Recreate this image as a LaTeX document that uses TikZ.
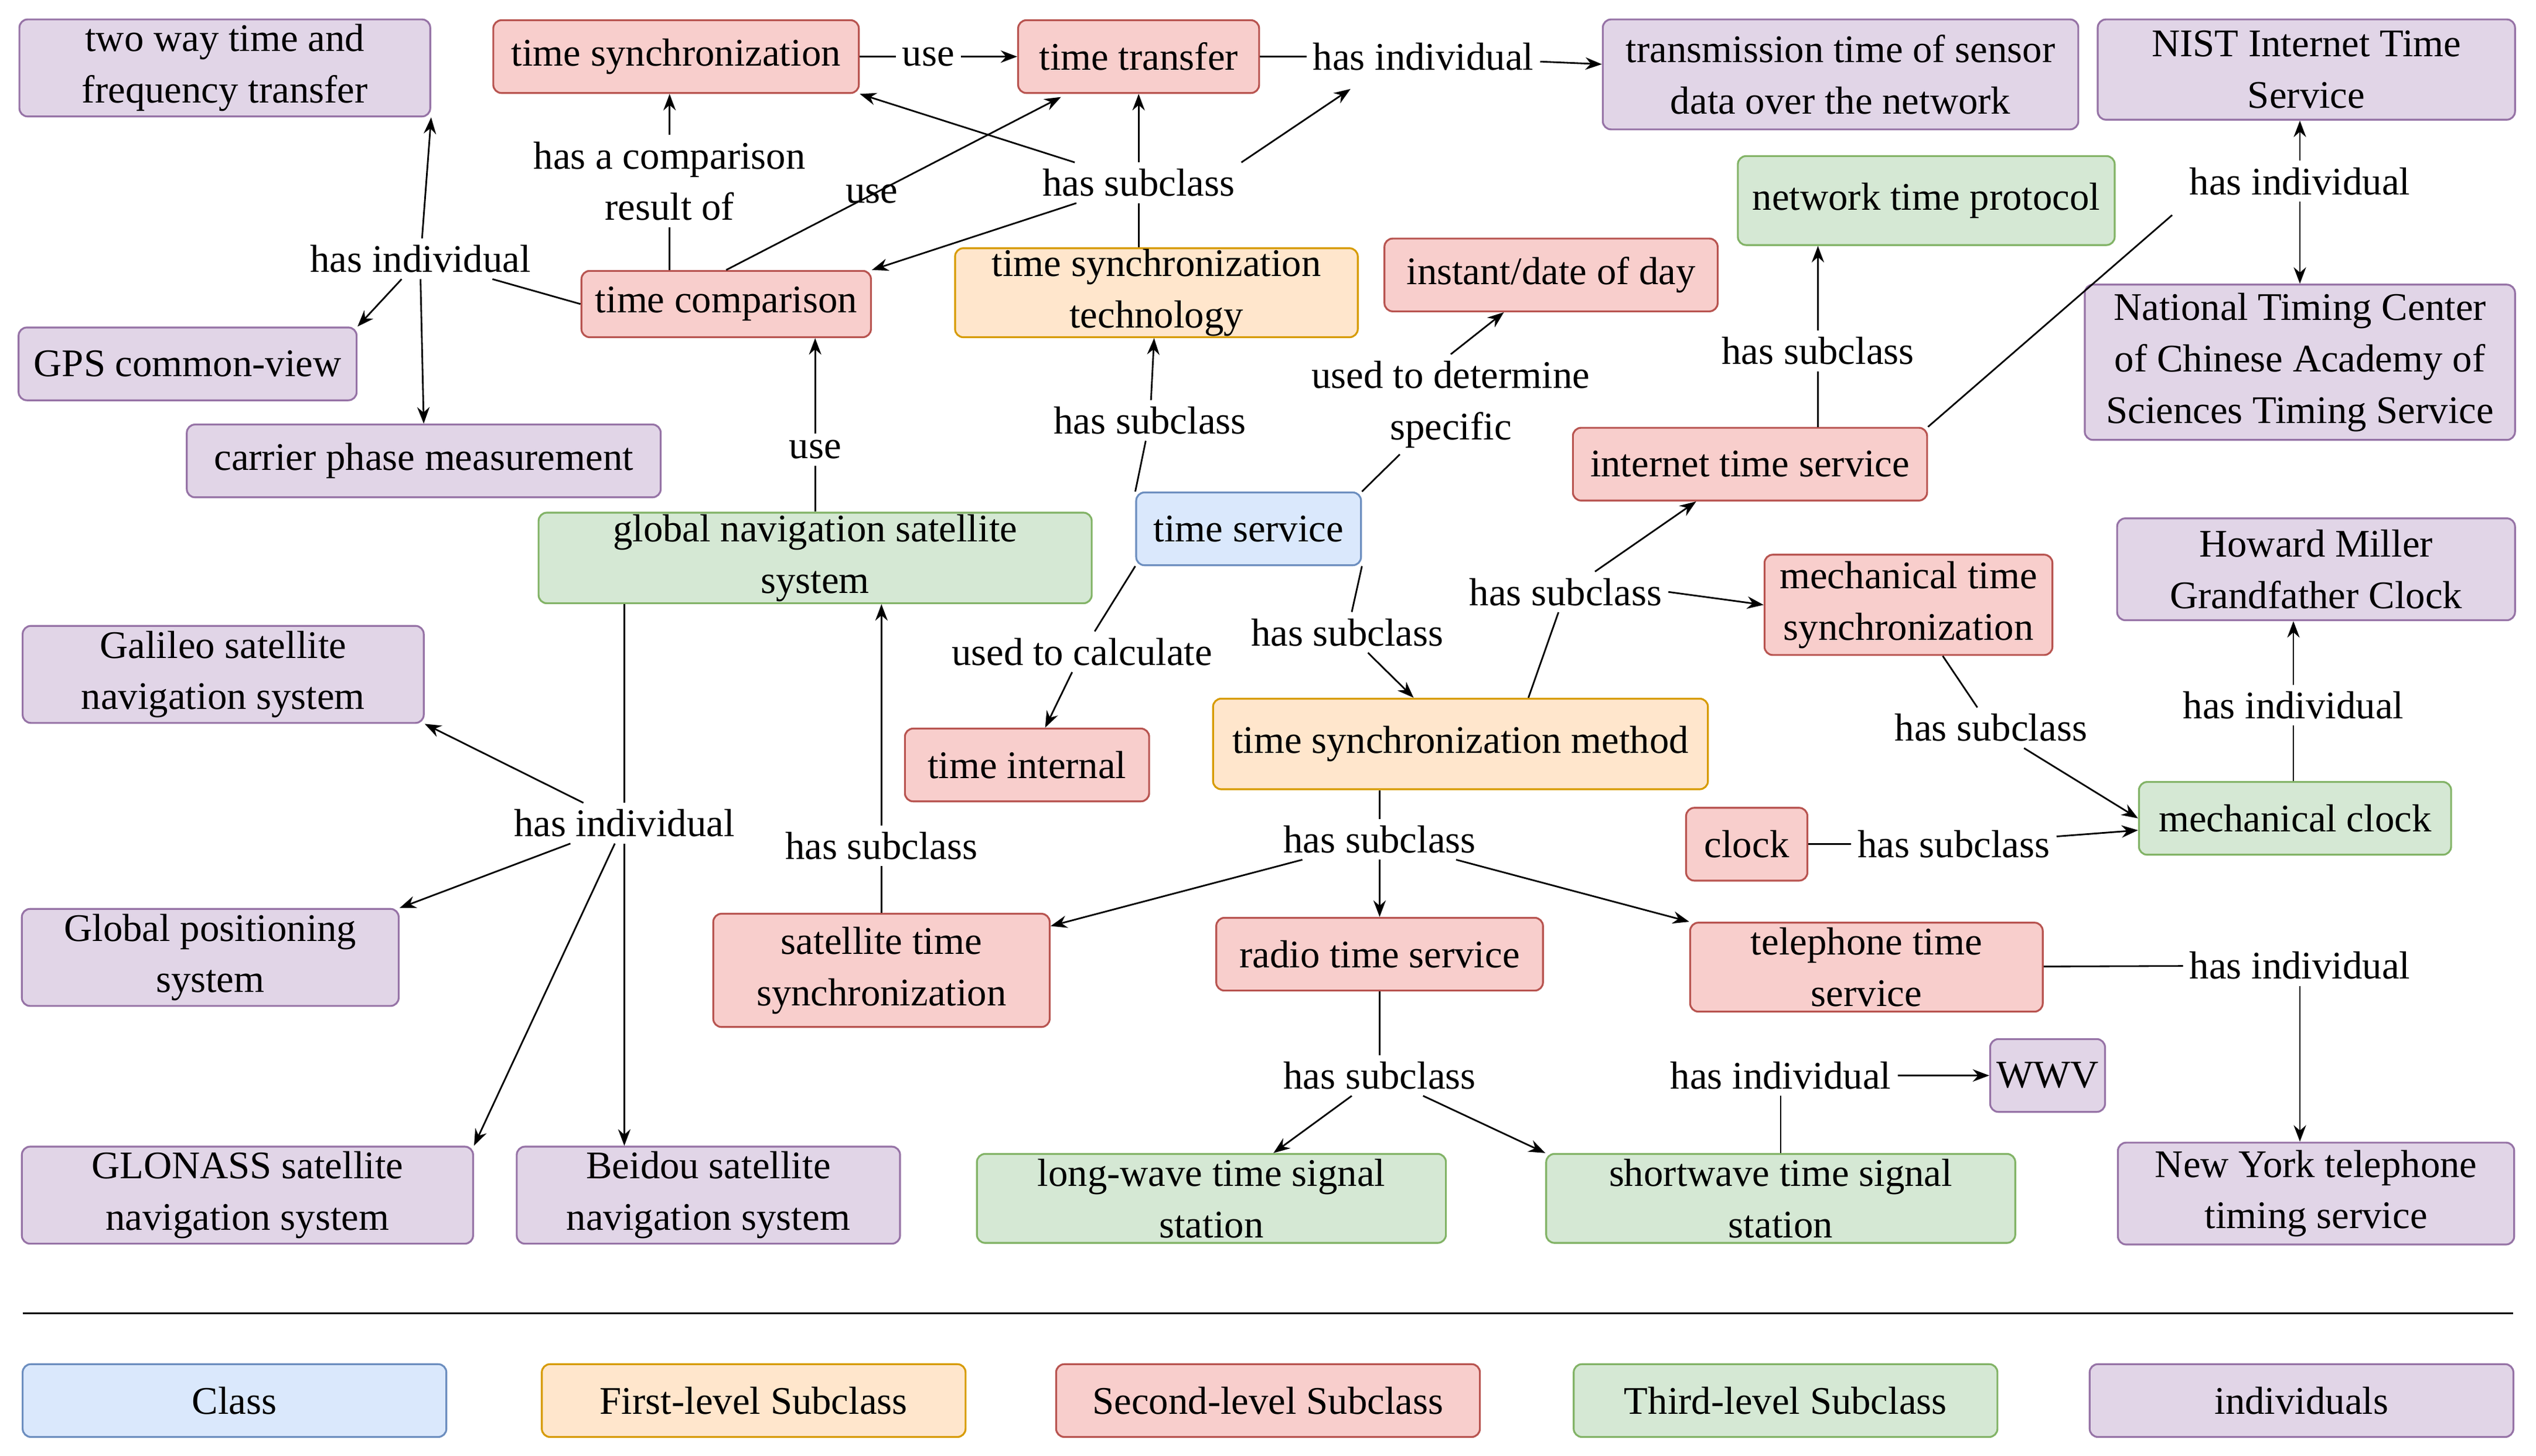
\documentclass[tikz,border=0pt]{standalone}
\usepackage{fontspec}
\setmainfont{Liberation Serif}
\usetikzlibrary{arrows.meta}
\definecolor{bF}{HTML}{DAE8FC}\definecolor{bD}{HTML}{6C8EBF}
\definecolor{oF}{HTML}{FFE6CC}\definecolor{oD}{HTML}{D79B00}
\definecolor{rF}{HTML}{F8CECC}\definecolor{rD}{HTML}{B85450}
\definecolor{gF}{HTML}{D5E8D4}\definecolor{gD}{HTML}{82B366}
\definecolor{pF}{HTML}{E1D5E7}\definecolor{pD}{HTML}{9673A6}
\begin{document}
\begin{tikzpicture}[x=0.0276cm,y=-0.0276cm,
  every node/.style={font=\fontsize{19}{25}\selectfont, align=center},
  bx/.style 2 args={draw, rounded corners=4pt, line width=0.9pt, inner sep=0pt, minimum width=#1*0.0276cm, minimum height=#2*0.0276cm},
  blu/.style 2 args={bx={#1}{#2}, fill=bF, draw=bD},
  ora/.style 2 args={bx={#1}{#2}, fill=oF, draw=oD},
  red/.style 2 args={bx={#1}{#2}, fill=rF, draw=rD},
  gre/.style 2 args={bx={#1}{#2}, fill=gF, draw=gD},
  pur/.style 2 args={bx={#1}{#2}, fill=pF, draw=pD},
  lb/.style={inner sep=3pt},
  ar/.style={-{Stealth[length=8pt,width=6pt]}, line width=0.8pt},
  ln/.style={line width=0.8pt}]
\useasboundingbox (0,0) rectangle (1568,900);
% boxes
\node[pur={254}{60}] (twoway) at (139,42) {two way time and\\frequency transfer};
\node[red={226}{45}] (tsync) at (418,35) {time synchronization};
\node[red={149}{45}] (ttrans) at (704,35) {time transfer};
\node[pur={294}{68}] (trans) at (1138,46) {transmission time of sensor\\data over the network};
\node[pur={258}{62}] (nist) at (1426,43) {NIST Internet Time\\Service};
\node[gre={233}{55}] (ntp) at (1191,124) {network time protocol};
\node[red={206}{45}] (inst) at (959,170) {instant/date of day};
\node[ora={249}{55}] (tst) at (715,181) {time synchronization\\technology};
\node[red={179}{41}] (tcomp) at (449,188) {time comparison};
\node[pur={209}{45}] (gpscv) at (116,225) {GPS common-view};
\node[pur={266}{96}] (ntc) at (1422,224) {National Timing Center\\of Chinese Academy of\\Sciences Timing Service};
\node[pur={293}{45}] (carrier) at (262,285) {carrier phase measurement};
\node[gre={342}{56}] (gnss) at (504,345) {global navigation satellite\\system};
\node[blu={139}{45}] (ts) at (772,327) {time service};
\node[red={219}{45}] (its) at (1082,287) {internet time service};
\node[pur={246}{63}] (howard) at (1432,352) {Howard Miller\\Grandfather Clock};
\node[red={178}{62}] (mech) at (1180,374) {mechanical time\\synchronization};
\node[pur={248}{60}] (galileo) at (138,417) {Galileo satellite\\navigation system};
\node[red={151}{45}] (tint) at (635,473) {time internal};
\node[ora={306}{56}] (tsm) at (903,460) {time synchronization method};
\node[red={75}{45}] (clock) at (1080,522) {clock};
\node[gre={193}{45}] (mclock) at (1419,506) {mechanical clock};
\node[pur={233}{60}] (gps) at (130,592) {Global positioning\\system};
\node[red={208}{70}] (sat) at (545,600) {satellite time\\synchronization};
\node[red={202}{45}] (radio) at (853,590) {radio time service};
\node[red={218}{55}] (tel) at (1154,598) {telephone time\\service};
\node[pur={71}{45}] (wwv) at (1266,665) {WWV};
\node[pur={279}{60}] (glonass) at (153,739) {GLONASS satellite\\navigation system};
\node[pur={237}{60}] (beidou) at (438,739) {Beidou satellite\\navigation system};
\node[gre={290}{55}] (long) at (749,741) {long-wave time signal\\station};
\node[gre={290}{55}] (short) at (1101,741) {shortwave time signal\\station};
\node[pur={245}{63}] (ny) at (1432,738) {New York telephone\\timing service};
% legend
\coordinate (lA) at (14,812); \coordinate (lB) at (1554,812);
\draw[ln] (lA) -- (lB);
\node[blu={262}{45}] (lg1) at (145,866) {Class};
\node[ora={262}{45}] (lg2) at (466,866) {First-level Subclass};
\node[red={262}{45}] (lg3) at (784,866) {Second-level Subclass};
\node[gre={262}{45}] (lg4) at (1104,866) {Third-level Subclass};
\node[pur={262}{45}] (lg5) at (1423,866) {individuals};
% labels
\node[lb] (l1) at (574,35) {use};
\node[lb] (l2) at (880,35) {has individual};
\node[lb] (l3) at (414,112) {has a comparison\\result of};
\node[lb] (l4) at (539,120) {use};
\node[lb] (l5) at (704,113) {has subclass};
\node[lb] (l6) at (260,160) {has individual};
\node[lb] (l7) at (504,278) {use};
\node[lb] (l8) at (711,260) {has subclass};
\node[lb] (l9) at (897,250) {used to determine\\specific};
\node[lb] (l10) at (1124,217) {has subclass};
\node[lb] (l11) at (1422,112) {has individual};
\node[lb] (l12) at (968,366) {has subclass};
\node[lb] (l13) at (833,391) {has subclass};
\node[lb] (l14) at (669,403) {used to calculate};
\node[lb] (l15) at (1231,450) {has subclass};
\node[lb] (l16) at (1418,436) {has individual};
\node[lb] (l17) at (1208,522) {has subclass};
\node[lb] (l18) at (386,509) {has individual};
\node[lb] (l19) at (545,523) {has subclass};
\node[lb] (l20) at (853,519) {has subclass};
\node[lb] (l21) at (853,665) {has subclass};
\node[lb] (l22) at (1101,665) {has individual};
\node[lb] (l23) at (1422,597) {has individual};
% connectors
\draw[ln] (tsync) -- (l1); \draw[ar] (l1) -- (ttrans);
\draw[ln] (ttrans) -- (l2); \draw[ar] (l2) -- (trans);
\draw[ln] (tcomp.north -| l3) -- (l3); \draw[ar] (l3) -- (tsync.south -| l3);
\coordinate (u4) at (656,60);
\draw[ar] (tcomp.north) -- (u4);
\draw[ln] (tst.north -| l5) -- (l5);
\draw[ar] (l5) -- (tsync.south east);
\draw[ar] (l5) -- (ttrans);
\coordinate (u5) at (835,55);
\draw[ar] (l5.north east) -- (u5);
\draw[ar] (l5) -- (tcomp.north east);
\draw[ln] (l6) -- (tcomp.west);
\draw[ar] (l6) -- (twoway.south east);
\draw[ar] (l6) -- (gpscv.north east);
\draw[ar] (l6.south) -- (carrier.north);
\draw[ln] (gnss.north) -- (l7); \draw[ar] (l7) -- (tcomp.south -| l7);
\draw[ln] (ts.north west) -- (l8); \draw[ar] (l8) -- (tst);
\draw[ln] (ts.north east) -- (l9); \draw[ar] (l9.north) -- (inst);
\draw[ln] (its.north -| l10) -- (l10); \draw[ar] (l10) -- (ntp.south -| l10);
\draw[ar] (l11) -- (nist.south -| l11); \draw[ar] (l11) -- (ntc.north -| l11);
\coordinate (u11) at (1343,133);
\draw[ln] (its.north east) -- (u11);
\draw[ln] (tsm.north) ++(42,0) coordinate (u12) ;
\draw[ln] (u12) -- (l12); \draw[ar] (l12) -- (its);
\draw[ar] (l12.east) -- (mech.west);
\draw[ln] (ts.south east) -- (l13); \draw[ar] (l13) -- (tsm);
\draw[ln] (ts.south west) -- (l14); \draw[ar] (l14) -- (tint);
\draw[ln] (mech) -- (l15); \draw[ar] (l15) -- (mclock.west);
\draw[ln] (mclock.north -| l16) -- (l16); \draw[ar] (l16) -- (howard.south -| l16);
\draw[ln] (clock) -- (l17); \draw[ar] (l17) -- (mclock);
\draw[ln] (gnss.south -| l18) -- (l18);
\draw[ar] (l18) -- (galileo.south east);
\draw[ar] (l18) -- (gps.north east);
\draw[ar] (l18) -- (glonass.north east);
\draw[ar] (l18.south) -- (beidou.north -| l18);
\draw[ln] (sat.north) -- (l19); \draw[ar] (l19) -- (gnss.south -| l19);
\draw[ln] (tsm.south -| l20) -- (l20);
\draw[ar] (l20) -- (sat);
\draw[ar] (l20) -- (radio);
\draw[ar] (l20) -- (tel.north west);
\draw[ln] (radio.south) -- (l21);
\draw[ar] (l21) -- (long);
\draw[ar] (l21) -- (short.north west);
\draw[ln] (short.north) -- (l22); \draw[ar] (l22) -- (wwv);
\draw[ln] (tel) -- (l23); \draw[ar] (l23) -- (ny.north -| l23);
\end{tikzpicture}
\end{document}
